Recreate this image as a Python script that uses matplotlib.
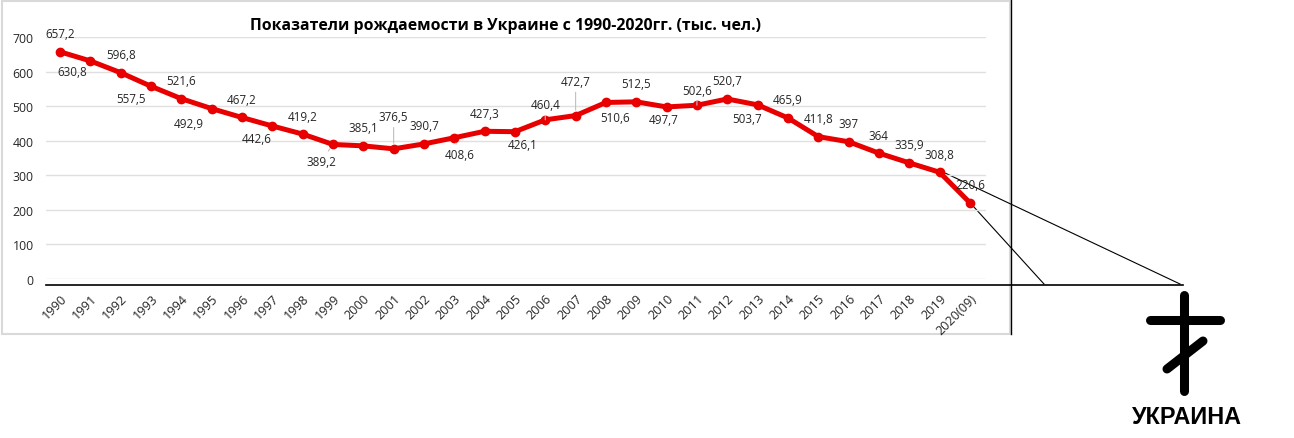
import numpy as np
import matplotlib.pyplot as plt

# data
years = ['1990', '1991', '1992', '1993', '1994', '1995', '1996', '1997', '1998', '1999',
         '2000', '2001', '2002', '2003', '2004', '2005', '2006', '2007', '2008', '2009',
         '2010', '2011', '2012', '2013', '2014', '2015', '2016', '2017', '2018', '2019',
         '2020(09)']
births = [657.2, 630.8, 596.8, 557.5, 521.6, 492.9, 467.2, 442.6, 419.2, 389.2,
          385.1, 376.5, 390.7, 408.6, 427.3, 426.1, 460.4, 472.7, 510.6, 512.5,
          497.7, 502.6, 520.7, 503.7, 465.9, 411.8, 397, 364, 335.9, 308.8,
          220.6]
yticks = [0, 100, 200, 300, 400, 500, 600, 700]

# label offsets (pixels, +y = up), excel-style placement
label_off = [(0, 18), (-18, -11), (0, 18), (-20, -12), (0, 18), (-23, -15), (0, 18),
             (-16, -13), (0, 18), (-12, -17), (0, 18), (0, 32), (0, 18), (5, -17),
             (0, 18), (8, -13), (0, 15), (0, 34), (9, -15), (0, 18), (-3, -13),
             (0, 15), (0, 18), (-11, -14), (0, 18), (0, 18), (0, 18), (0, 18),
             (0, 18), (0, 18), (0, 18)]
leader_idx = [9, 11, 13, 16, 17, 21]

W, H = 1294, 439
RED = '#e80000'
TXT = '#262626'
FONT = ['Open Sans', 'DejaVu Sans']
plt.rcParams['font.family'] = FONT

fig = plt.figure(figsize=(W / 100, H / 100), dpi=100)

# overlay in pixel coords for frame and the hand-drawn bits
ov = fig.add_axes([0, 0, 1, 1], zorder=0)
ov.set_xlim(0, W)
ov.set_ylim(H, 0)
ov.axis('off')

ax = fig.add_axes([46 / W, (H - 280) / H, (986 - 46) / W, (280 - 38) / H], zorder=1)
ax.patch.set_alpha(0)
x = np.arange(len(years))
ax.set_xlim((46 - 60) / 30.33, (986 - 60) / 30.33)
ax.set_ylim(0, 700)
ax.set_yticks(yticks)
ax.grid(axis='y', color='#e0e0e0', lw=1)
ax.set_axisbelow(True)
for s in ax.spines.values():
    s.set_visible(False)
ax.set_xticks(x)
ax.set_xticklabels(years, rotation=45, ha='right', va='top', rotation_mode='anchor')
ax.tick_params(axis='both', length=0, labelcolor=TXT)
ax.tick_params(axis='x', pad=9, labelsize=9.2)
ax.tick_params(axis='y', pad=9, labelsize=8.8)

ax.plot(x, births, color=RED, lw=3.6, marker='o', ms=6, solid_capstyle='round', clip_on=False)

for i, v in enumerate(births):
    dx, dy = label_off[i]
    txt = f'{v:g}'.replace('.', ',')
    kw = {}
    if i in leader_idx:
        kw['arrowprops'] = dict(arrowstyle='-', color='#bfbfbf', lw=0.8, shrinkA=1, shrinkB=4)
    ax.annotate(txt, (i, v), xytext=(dx, dy), textcoords='offset pixels',
                ha='center', va='center', fontsize=8.4, color=TXT, **kw)

fig.text(506 / W, 1 - 26 / H, 'Показатели рождаемости в Украине с 1990-2020гг. (тыс. чел.)',
         ha='center', va='center', fontsize=11.4, fontweight='bold', color='black')

# chart frame and black lines
ov.add_patch(plt.Rectangle((2, 2), 1008, 333, fill=False, ec='#d9d9d9', lw=1.5))
ov.plot([1011, 1011], [0, 335], color='black', lw=1)
ov.plot([46, 1183], [286, 286], color='black', lw=1.2)


def px(i):
    p = ax.transData.transform((i, births[i]))
    return p[0], H - p[1]


x19, y19 = px(29)
x20, y20 = px(30)
ov.plot([x19 + 6, 1180], [y19 + 1, 285], color='black', lw=0.8)
ov.plot([x20 + 2, 1044], [y20 + 2, 285], color='black', lw=0.8)

# cross
ov.plot([1184, 1184], [296, 392], color='black', lw=6.5, solid_capstyle='round')
ov.plot([1150, 1220], [321, 321], color='black', lw=6.5, solid_capstyle='round')
ov.plot([1167, 1203], [370, 342], color='black', lw=6.5, solid_capstyle='round')
ov.text(1187, 418, 'УКРАИНА', ha='center', va='center', fontsize=16.8,
        fontweight='bold', family=['Liberation Sans', 'DejaVu Sans'], color='black')

fig.savefig('out.png', dpi=100)
